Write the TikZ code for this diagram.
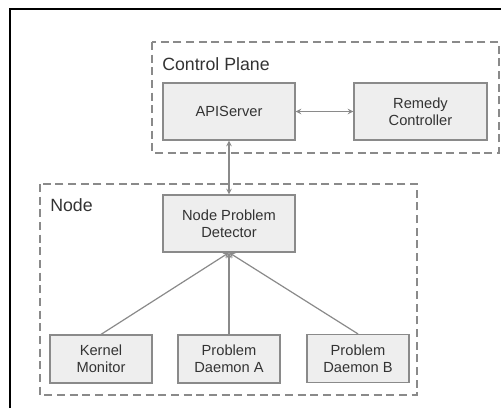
\documentclass[tikz,border=0pt]{standalone}
\usepackage{fontspec}
\setmainfont{Liberation Sans}
\usetikzlibrary{arrows,shapes}
\definecolor{boxfill}{HTML}{EEEEEE}
\definecolor{boxline}{HTML}{8A8A8A}
\definecolor{textgray}{HTML}{333333}
\tikzstyle{comp}=[rectangle,draw=boxline,fill=boxfill,line width=0.9pt,inner sep=0pt,align=center,text=textgray,font=\fontsize{11}{12.75}\selectfont]
\tikzstyle{wide}=[comp,minimum width=99pt,minimum height=42.75pt]
\tikzstyle{small}=[comp,minimum width=76.5pt,minimum height=36pt]
\tikzstyle{group}=[draw=boxline,line width=0.9pt,dash pattern=on 6pt off 3.5pt]
\tikzstyle{grouplabel}=[anchor=west,inner sep=0pt,text=textgray,font=\fontsize{13.3}{15}\selectfont]
\tikzstyle{edge} = [draw,line width=0.9pt,boxline,>=stealth]

\begin{document}
\begin{tikzpicture}[x=0.75pt,y=-0.75pt]

    \useasboundingbox (0,0) rectangle (501,408);
    \draw[line width=1.1pt] (10,408) -- (10,9) -- (501,9);

    % groups
    \draw[group] (152,42) rectangle (499,153);
    \draw[group] (40,184) rectangle (417,395);
    \node[grouplabel] (cplabel) at (162,64) {Control Plane};
    \node[grouplabel] (nodelabel) at (50,205) {Node};

     \foreach \x/\y/\name/\txt in {229/111.5/api/APIServer, 229/223.5/npd/{Node Problem\\Detector}}
        \node[wide] (\name) at (\x,\y) {\txt};
    \node[wide,minimum width=99.75pt] (remedy) at (420.5,111.5) {Remedy\\Controller};

     \foreach \x/\y/\name/\txt in {101/359/km/{Kernel\\Monitor}, 229/359/pda/{Problem\\Daemon A}, 358/358.5/pdb/{Problem\\Daemon B}}
        \node[small] (\name) at (\x,\y) {\txt};

    \path[edge,<->] (api) -- (remedy);
    \path[edge,<->] (api) -- (npd);

    \foreach \source in {km,pda,pdb}
        \path[edge,->] (\source.north) -- (npd.south);

   \end{tikzpicture}
\end{document}
